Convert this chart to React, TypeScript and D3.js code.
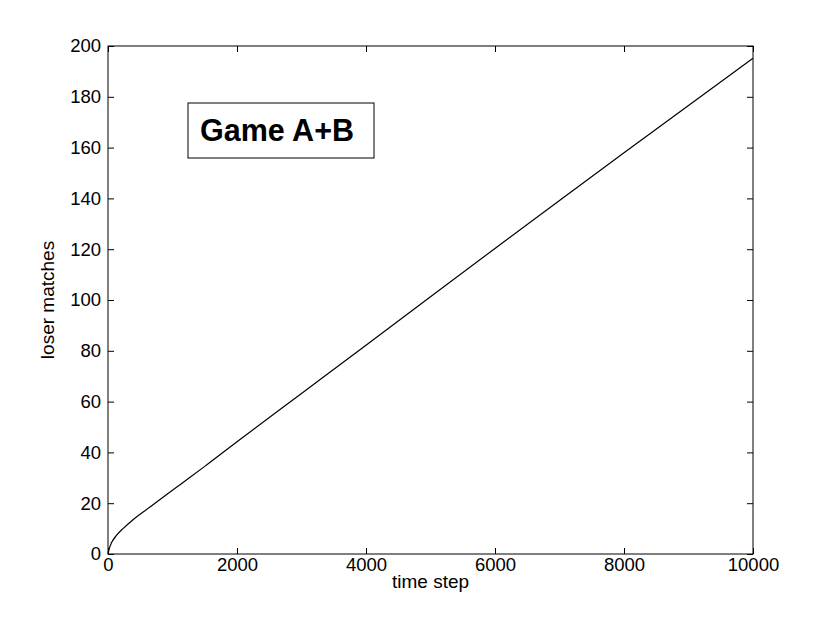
import React, { useEffect, useRef } from 'react';
import * as d3 from 'd3';

const timeSteps = [0, 25, 56, 134, 237, 393, 651, 910, 1117, 1500, 2000, 3000, 4000, 5000, 6000, 7000, 8000, 9000, 10000];
const loserMatches = [0, 2.6, 4.5, 7.4, 10.1, 13.6, 18.5, 23.4, 27.3, 34.5, 44.2, 63.2, 82.2, 101.3, 120.3, 139.2, 158, 176.6, 195.2];
const xTicks = [0, 2000, 4000, 6000, 8000, 10000];
const yTicks = [0, 20, 40, 60, 80, 100, 120, 140, 160, 180, 200];
const xLabel = 'time step';
const yLabel = 'loser matches';
const boxTitle = 'Game A+B';

const App = () => {
    const svgRef = useRef<SVGSVGElement>(null);

    useEffect(() => {
        const width = 830;
        const height = 624;
        const margin = { top: 46, right: 77, bottom: 70, left: 108 };
        const w = width - margin.left - margin.right;
        const h = height - margin.top - margin.bottom;
        const font = 'Liberation Sans, Arial, Helvetica, sans-serif';

        const root = d3.select(svgRef.current);
        root.selectAll('*').remove();
        const svg = root.append('g').attr('transform', `translate(${margin.left},${margin.top})`);

        const xScale = d3.scaleLinear().domain([0, 10000]).range([0, w]);
        const yScale = d3.scaleLinear().domain([0, 200]).range([h, 0]);

        // inward ticks on all four sides, matlab style
        const tick = 6;
        const bottom = svg.append('g').attr('transform', `translate(0,${h})`)
            .call(d3.axisBottom(xScale).tickValues(xTicks).tickSize(-tick).tickPadding(4).tickFormat(d3.format('d')));
        const left = svg.append('g')
            .call(d3.axisLeft(yScale).tickValues(yTicks).tickSize(-tick).tickPadding(7).tickFormat(d3.format('d')));
        const top = svg.append('g')
            .call(d3.axisTop(xScale).tickValues(xTicks).tickSize(-tick).tickFormat(() => ''));
        const right = svg.append('g').attr('transform', `translate(${w},0)`)
            .call(d3.axisRight(yScale).tickValues(yTicks).tickSize(-tick).tickFormat(() => ''));

        [bottom, left, top, right].forEach(ax => {
            ax.select('.domain').remove();
            ax.selectAll('line').attr('stroke', '#000').attr('stroke-width', 1);
            ax.selectAll('text').attr('fill', '#000').style('font-family', font).style('font-size', '18.5px');
        });

        svg.append('rect')
            .attr('x', 0).attr('y', 0).attr('width', w).attr('height', h)
            .attr('fill', 'none').attr('stroke', '#000').attr('stroke-width', 1);

        const line = d3.line<number>()
            .x((d, i) => xScale(timeSteps[i]))
            .y(d => yScale(d))
            .curve(d3.curveMonotoneX);

        svg.append('path')
            .datum(loserMatches)
            .attr('d', line)
            .attr('fill', 'none')
            .attr('stroke', '#000')
            .attr('stroke-width', 1.2);

        // axis labels
        root.append('text')
            .attr('x', margin.left + w / 2)
            .attr('y', 588)
            .attr('text-anchor', 'middle')
            .style('font-family', font)
            .style('font-size', '19px')
            .text(xLabel);

        root.append('text')
            .attr('transform', `translate(54,${margin.top + h / 2}) rotate(-90)`)
            .attr('text-anchor', 'middle')
            .style('font-family', font)
            .style('font-size', '19px')
            .text(yLabel);

        // title box
        root.append('rect')
            .attr('x', 188).attr('y', 103).attr('width', 186).attr('height', 55)
            .attr('fill', '#fff').attr('stroke', '#000').attr('stroke-width', 1);
        root.append('text')
            .attr('x', 277)
            .attr('y', 141)
            .attr('text-anchor', 'middle')
            .style('font-family', font)
            .style('font-weight', 'bold')
            .style('font-size', '30.5px')
            .text(boxTitle);
    }, []);

    return <svg ref={svgRef} width={830} height={624} style={{ position: 'absolute', left: 0, top: 0, background: '#fff' }}></svg>;
};

export default App;
